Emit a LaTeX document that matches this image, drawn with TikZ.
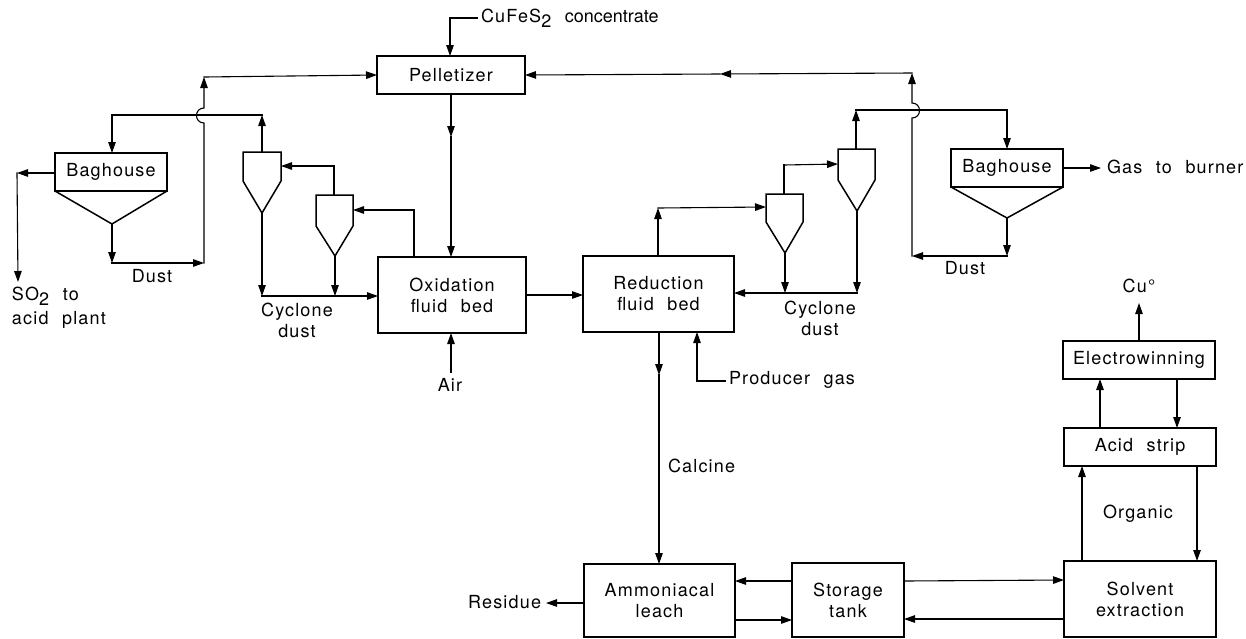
\documentclass[tikz,border=0pt]{standalone}
\usepackage{fontspec}
\setmainfont{TeX Gyre Heros}
\newfontfamily\lblfont[LetterSpace=6.5,WordSpace=2.2]{TeX Gyre Heros}
\newfontfamily\tightfont{TeX Gyre Heros}
\usetikzlibrary{arrows.meta}
\newcommand{\lbl}{\fontsize{18}{21}\lblfont}
\tikzset{
  box/.style={draw,line width=1.5pt,inner sep=0pt,outer sep=0pt,anchor=north west,align=center,font=\lbl},
  tag/.style={inner sep=0pt,outer sep=0pt,align=center,font=\lbl},
  flow/.style={line width=1.1pt,line cap=rect,-{Triangle[length=11pt,width=7.5pt]}},
  link/.style={line width=1.1pt,line cap=rect},
  vessel/.style={line width=1.5pt,line join=miter}
}
\newcommand{\boxat}[6]{\node[box,minimum width=#4pt,minimum height=#5pt] (#1) at (#2,#3) {#6};}
\newcommand{\dn}[1]{\raisebox{-3pt}{#1}}
\begin{document}
\begin{tikzpicture}[x=1pt,y=-1pt]
\useasboundingbox (0,0) rectangle (1246,638);
% boxes
\boxat{pel}{377}{56}{148}{38}{Pelletizer}
\boxat{ox}{378}{257}{148}{76}{Oxidation\\fluid bed}
\boxat{red}{583}{256}{151}{76}{Reduction\\fluid bed}
\boxat{amm}{584}{564}{151}{73}{\dn{Ammoniacal}\\\dn{leach}}
\boxat{sto}{792}{563}{112}{74}{\dn{Storage}\\\dn{tank}}
\boxat{sol}{1064}{561}{152}{76}{Solvent\\extraction}
\boxat{aci}{1064}{428}{152}{38}{Acid strip}
\boxat{ele}{1063}{341}{152}{38}{Electrowinning}
\boxat{bagl}{55}{153}{112}{38}{Baghouse}
\boxat{bagr}{951}{149}{112}{38}{Baghouse}
% hoppers
\coordinate (blt) at (112,224);
\coordinate (brt) at (1007,218);
\draw[vessel] (bagl.south west) -- (blt) -- (bagl.south east);
\draw[vessel] (bagr.south west) -- (brt) -- (bagr.south east);
% cyclones
\coordinate (c1t) at (262,152);\coordinate (c1b) at (262,213);
\coordinate (c2t) at (334,195);\coordinate (c2b) at (335,256);
\coordinate (c3t) at (784,194);\coordinate (c3b) at (785,253);
\coordinate (c4t) at (856,149);\coordinate (c4b) at (857,211);
\coordinate (c1s) at (281,166);\coordinate (c2s) at (353,210);
\coordinate (c3s) at (766,207);\coordinate (c4s) at (838,164);
\draw[vessel] (243,152) -- (281,152) -- (281,181) -- (c1b) -- (243,181) -- cycle;
\draw[vessel] (316,195) -- (353,195) -- (353,226) -- (c2b) -- (316,226) -- cycle;
\draw[vessel] (766,194) -- (803,194) -- (803,222) -- (c3b) -- (766,222) -- cycle;
\draw[vessel] (838,149) -- (875,149) -- (875,180) -- (c4b) -- (838,180) -- cycle;
% labels
\node[tag,anchor=west] (cuf) at (481,18) {CuFeS\raisebox{-5pt}{2} {\tightfont concentrate}};
\node[tag,anchor=west] (so) at (12,308) {\begin{tabular}{@{}l@{}}SO\raisebox{-5pt}{2} to\\[3pt]acid plant\end{tabular}};
\node[tag] (dl) at (152,276) {Dust};
\node[tag] (cl) at (297,320) {Cyclone\\dust};
\node[tag] (air) at (450,385) {Air};
\node[tag] (cr) at (820,318) {Cyclone\\dust};
\node[tag] (dr) at (965,268) {Dust};
\node[tag,anchor=west] (gas) at (1107,167) {Gas to burner};
\node[tag,anchor=west] (pg) at (729,380) {Producer gas};
\node[tag,anchor=west] (cal) at (668,466) {Calcine};
\node[tag,anchor=east] (res) at (541,602) {Residue};
\node[tag] (cu) at (1139,286) {Cu°};
\node[tag] (org) at (1138,514) {Organic};
% junctions
\coordinate (jl1) at (204,263);
\coordinate (jl2) at (204,77);
\coordinate (jl3) at (262,115);
\coordinate (jl4) at (112,115);
\coordinate (jl5) at (112,263);
\coordinate (jl6) at (17,173);
\coordinate (jl7) at (18,282);
\coordinate (jl8) at (262,296);
\coordinate (jl9) at (335,296);
\coordinate (jr1) at (912,256);
\coordinate (jr2) at (912,73);
\coordinate (jr3) at (856,110);
\coordinate (jr4) at (1007,110);
\coordinate (jr5) at (1007,256);
\coordinate (jr6) at (857,293);
\coordinate (jr7) at (785,293);
\coordinate (jp) at (720,74);
\coordinate (jc) at (659,375);
\coordinate (jo) at (451,137);
% top feed
\draw[flow] (cuf.west) ++(-4,0) -- (450,18) -- (450,0 |- pel.north);
\draw[flow] (451,0 |- pel.south) -- (jo);
\draw[flow] (jo) -- (451,0 |- ox.north);
% left dust loop
\draw[flow] (blt) -- (jl5);
\draw[flow] (jl5) -- (jl1);
\draw[flow] (jl1) -- (204,123) .. controls (194,123) and (194,108) .. (204,108) -- (jl2);
\draw[flow] (jl2) -- (pel.west |- 0,75);
% gas left
\draw[flow] (c1t) -- (jl3);
\draw[link] (jl3) -- (jl4);
\draw[flow] (jl4) -- (112,0 |- bagl.north);
\draw[flow] (bagl.west |- jl6) -- (jl6);
\draw[flow] (jl6) -- (jl7);
% left cyclones
\draw[flow] (c1b) -- (jl8);
\draw[flow] (c2b) -- (jl9);
\draw[flow] (jl8) -- (ox.west |- jl8);
\draw[link] (c2t) -- (334,166);
\draw[flow] (334,166) -- (c1s);
\draw[link] (414,0 |- ox.north) -- (414,210);
\draw[flow] (414,210) -- (c2s);
\draw[flow] (451,372) -- (451,0 |- ox.south);
\draw[flow] (ox.east |- 0,295) -- (red.west |- 0,295);
% right side
\draw[flow] (658,0 |- red.north) -- (658,208);
\draw[flow] (658,208) -- (c3s);
\draw[link] (c3t) -- (784,165);
\draw[flow] (784,165) -- (c4s);
\draw[flow] (c4t) -- (jr3);
\draw[link] (jr3) -- (jr4);
\draw[flow] (jr4) -- (1007,0 |- bagr.north);
\draw[flow] (c3b) -- (jr7);
\draw[flow] (c4b) -- (jr6);
\draw[flow] (jr6) -- (red.east |- jr6);
\draw[flow] (brt) -- (jr5);
\draw[flow] (jr5) -- (jr1);
\draw[flow] (jr1) -- (912,118) .. controls (922,118) and (922,103) .. (912,103) -- (jr2);
\draw[flow] (jr2) -- (jp);
\draw[flow] (jp) -- (pel.east |- 0,75);
\draw[flow] (bagr.east |- 0,168) -- (1101,168);
\draw[flow] (725,381) -- (697,381) -- (697,0 |- red.south);
% calcine
\draw[flow] (659,0 |- red.south) -- (jc);
\draw[flow] (jc) -- (659,0 |- amm.north);
% bottom row
\draw[flow] (amm.west |- 0,603) -- (546,603);
\draw[flow] (sto.west |- 0,581) -- (amm.east |- 0,581);
\draw[flow] (amm.east |- 0,620) -- (sto.west |- 0,620);
\draw[flow] (sto.east |- 0,581) -- (sol.west |- 0,580);
\draw[flow] (sol.west |- 0,619) -- (sto.east |- 0,619);
% right column
\draw[flow] (1082,0 |- sol.north) -- (1082,0 |- aci.south);
\draw[flow] (1197,0 |- aci.south) -- (1197,0 |- sol.north);
\draw[flow] (1100,0 |- aci.north) -- (1100,0 |- ele.south);
\draw[flow] (1177,0 |- ele.south) -- (1177,0 |- aci.north);
\draw[flow] (1139,0 |- ele.north) -- (1139,303);
\end{tikzpicture}
\end{document}
